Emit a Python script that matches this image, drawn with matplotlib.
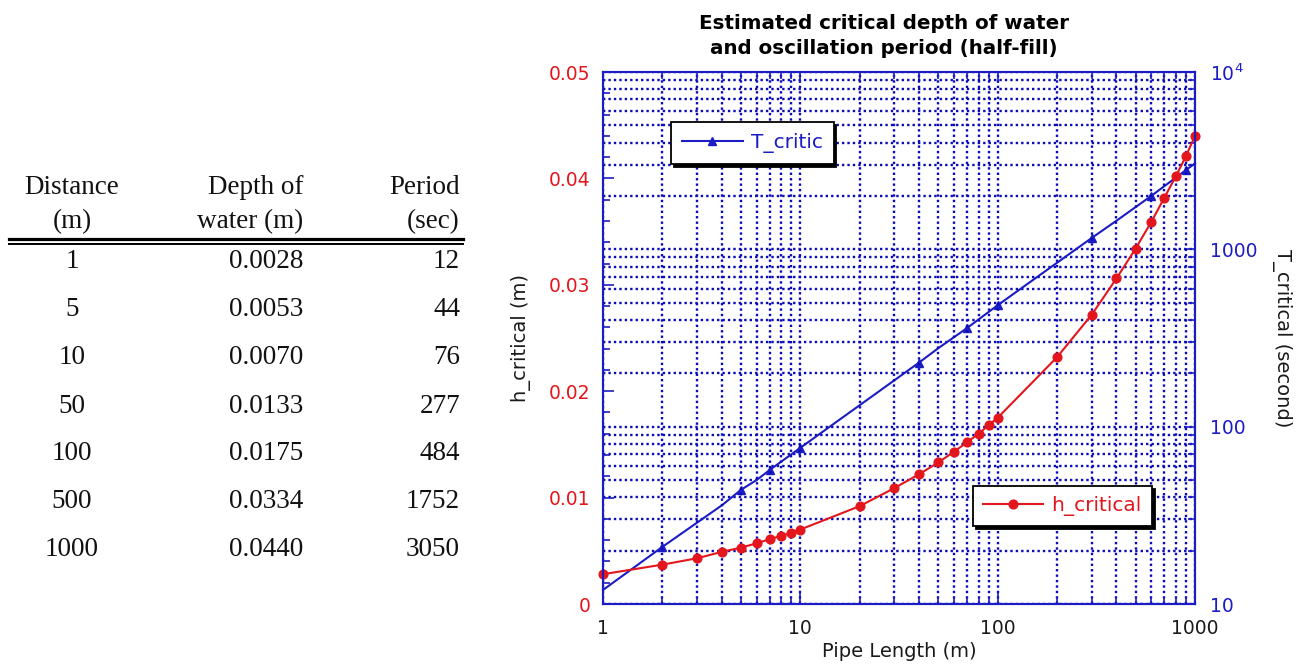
import numpy as np
import matplotlib
matplotlib.use("Agg")
import matplotlib.pyplot as plt
from matplotlib.lines import Line2D
from matplotlib.ticker import MultipleLocator, FixedLocator, FixedFormatter, FuncFormatter

# table on the left
table_dist = [1, 5, 10, 50, 100, 500, 1000]
table_depth = [0.0028, 0.0053, 0.0070, 0.0133, 0.0175, 0.0334, 0.0440]
table_period = [12, 44, 76, 277, 484, 1752, 3050]

# h_critical curve (left axis)
h_len = [1, 2, 3, 4, 5, 6, 7, 8, 9, 10, 20, 30, 40, 50, 60, 70, 80, 90, 100,
         200, 300, 400, 500, 600, 700, 800, 900, 1000]
h_crit = [0.0028, 0.0037, 0.0043, 0.0049, 0.0053, 0.0057, 0.0061, 0.0064, 0.0067, 0.0070,
          0.0092, 0.0109, 0.0122, 0.0133, 0.0143, 0.0152, 0.0160, 0.0168, 0.0175,
          0.0232, 0.0272, 0.0306, 0.0334, 0.0359, 0.0382, 0.0402, 0.0421, 0.0440]

# T_critic curve (right axis, log)
t_len = [1, 2, 4, 5, 6, 7, 10, 40, 50, 70, 100, 300, 400, 600, 900, 1000]
t_crit = [12, 21, 36, 44, 50, 57, 76, 230, 277, 360, 484, 1160, 1450, 2000, 2800, 3050]
t_marked = [1, 3, 5, 6, 7, 9, 10, 11, 13, 14]  # points that show a triangle

RED = "#e3161d"
BLUE = "#1c1cc4"
GRID = "#0a0ab8"
W, H = 1312, 664

def fx(px):
    return px / W

def fy(py):
    return 1 - py / H

fig = plt.figure(figsize=(W / 100, H / 100), dpi=100)
fig.patch.set_facecolor("white")

# ---- table ----
serif = dict(family="Liberation Serif", fontsize=19.5, color="#111111")
fig.text(fx(72), fy(188), "Distance", ha="center", va="center", **serif)
fig.text(fx(72), fy(222), "(m)", ha="center", va="center", **serif)
fig.text(fx(303), fy(188), "Depth of", ha="right", va="center", **serif)
fig.text(fx(303), fy(222), "water (m)", ha="right", va="center", **serif)
fig.text(fx(460), fy(188), "Period", ha="right", va="center", **serif)
fig.text(fx(460), fy(222), "(sec)", ha="right", va="center", **serif)
fig.add_artist(Line2D([fx(9), fx(463)], [fy(239.5), fy(239.5)], color="black", lw=2.3))
fig.add_artist(Line2D([fx(9), fx(463)], [fy(244), fy(244)], color="black", lw=1.4))
for i in range(len(table_dist)):
    yy = fy(262 + i * 48)
    fig.text(fx(72), yy, str(table_dist[i]), ha="center", va="center", **serif)
    fig.text(fx(303), yy, "%.4f" % table_depth[i], ha="right", va="center", **serif)
    fig.text(fx(460), yy, str(table_period[i]), ha="right", va="center", **serif)

# ---- chart ----
ax = fig.add_axes([fx(603), 60 / H, 592 / W, 532 / H])
ax2 = ax.twinx()
ax.set_zorder(ax2.get_zorder() + 1)
ax.patch.set_visible(False)

ax.set_xscale("log")
ax.set_xlim(1, 1000)
ax.set_ylim(0, 0.05)
ax2.set_yscale("log")
ax2.set_ylim(10, 1e4)

gridstyle = dict(color=GRID, linestyle=(0, (1, 1.3)), linewidth=1.7)
ax.xaxis.grid(True, which="both", **gridstyle)
ax2.yaxis.grid(True, which="both", **gridstyle)

tline, = ax2.plot(t_len, t_crit, color=BLUE, lw=1.5, marker="^", ms=6,
                  markevery=t_marked, clip_on=False)
hline, = ax.plot(h_len, h_crit, color=RED, lw=1.5, marker="o", ms=6.3, clip_on=False)

ax.set_yticks([0, 0.01, 0.02, 0.03, 0.04, 0.05])
ax.yaxis.set_major_formatter(FuncFormatter(lambda v, p: "0" if v == 0 else "%.2f" % v))
ax.yaxis.set_minor_locator(MultipleLocator(0.002))
ax.set_xticks([1, 10, 100, 1000])
ax.xaxis.set_major_formatter(FixedFormatter(["1", "10", "100", "1000"]))
ax2.yaxis.set_major_locator(FixedLocator([10, 100, 1000, 10000]))
ax2.yaxis.set_major_formatter(FixedFormatter(["10", "100", "1000", "$10^4$"]))

ax.tick_params(axis="both", which="both", direction="in", color=BLUE, top=True)
ax.tick_params(which="major", length=8, width=1.2)
ax.tick_params(which="minor", length=5, width=1.2)
ax.tick_params(axis="y", labelcolor=RED, labelsize=13.5, pad=9)
ax.tick_params(axis="x", labelcolor="#1a1a1a", labelsize=13.5, pad=11)
ax2.tick_params(axis="y", which="both", direction="in", color=BLUE, labelcolor=BLUE,
                labelsize=13.5, pad=11)
ax2.tick_params(which="major", length=8, width=1.2)
ax2.tick_params(which="minor", length=5, width=1.2)
for a in (ax, ax2):
    for s in a.spines.values():
        s.set_color(BLUE)
        s.set_linewidth(1.5)

ax.set_ylabel("h_critical (m)", fontsize=14, color="#1a1a1a")
ax.yaxis.set_label_coords(-0.1216, 0.5)
ax2.set_ylabel("T_critical (second)", fontsize=14, color="#1a1a1a", rotation=270, va="center")
ax2.yaxis.set_label_coords(1.147, 0.5)
ax.set_xlabel("Pipe Length (m)", fontsize=14, color="#1a1a1a")
ax.xaxis.set_label_coords(0.5, -0.072)

fig.text(fx(884), fy(36), "Estimated critical depth of water\nand oscillation period (half-fill)",
         ha="center", va="center", fontsize=14.3, fontweight="bold", linespacing=1.35)

shadow = {"facecolor": "black", "edgecolor": "black", "alpha": 1}
leg1 = ax.legend(handles=[tline], labels=["T_critic"], loc="upper left",
                 bbox_to_anchor=(0.115, 0.906), borderaxespad=0, fancybox=False,
                 shadow=shadow, framealpha=1, edgecolor="black", fontsize=14.5,
                 labelcolor=BLUE, handlelength=3.0, handletextpad=0.4, borderpad=0.55)
leg1.get_frame().set_linewidth(1.3)
ax.add_artist(leg1)
leg2 = ax.legend(handles=[hline], labels=["h_critical"], loc="upper left",
                 bbox_to_anchor=(0.625, 0.222), borderaxespad=0, fancybox=False,
                 shadow=shadow, framealpha=1, edgecolor="black", fontsize=14.5,
                 labelcolor=RED, handlelength=3.0, handletextpad=0.4, borderpad=0.5)
leg2.get_frame().set_linewidth(1.3)

fig.savefig("out.png", dpi=100)
